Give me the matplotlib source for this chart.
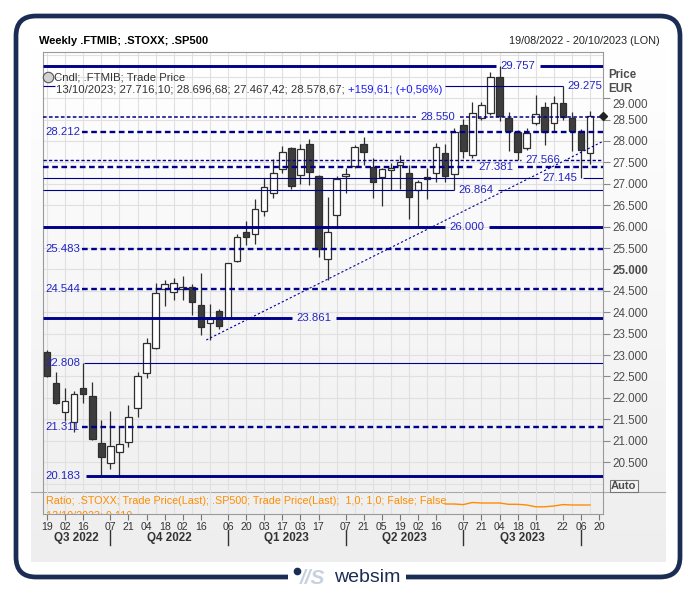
import numpy as np
import matplotlib.pyplot as plt
from matplotlib import font_manager
from matplotlib.colors import LinearSegmentedColormap
from matplotlib.patches import FancyBboxPatch, Rectangle
import matplotlib.transforms as mtransforms

# ---------------- data ----------------
title = "Weekly .FTMIB; .STOXX; .SP500"
date_range = "19/08/2022 - 20/10/2023 (LON)"
legend_1 = "Cndl; .FTMIB; Trade Price"
legend_2 = "13/10/2023; 27.716,10; 28.696,68; 27.467,42; 28.578,67; "
legend_chg = "+159,61; (+0,56%)"
ratio_text = "Ratio; .STOXX; Trade Price(Last); .SP500; Trade Price(Last);  1,0; 1,0; False; False"
ratio_last = "13/10/2023; 0,110"

# weekly FTSE MIB candles, 19/08/2022 .. 13/10/2023
opens = [23070, 22350, 21665, 21430, 22225, 22050, 20940, 20475, 20735, 20963,
         21757, 22588, 23170, 24550, 24480, 24536, 24583, 24169, 23742, 24030,
         23860, 25197, 25867, 25820, 26358, 26778, 27350, 27830, 27200, 27930,
         27190, 25244, 26271, 27190, 27415, 27929, 27385, 27152, 27330, 27440,
         27245, 26855, 27150, 27245, 27712, 27222, 28380, 27673, 28530, 28660,
         29487, 28530, 28220, 27830, 28413, 28787, 28413, 28880, 28530, 28240,
         27716.10]
highs = [23130, 22600, 22230, 22160, 22808, 22378, 21490, 21690, 21310, 21834,
         22612, 23410, 24676, 24753, 24807, 24847, 24660, 24910, 24193, 24076,
         25160, 25830, 26131, 26645, 27128, 27572, 27880, 27850, 27930, 28035,
         27200, 26699, 27182, 27370, 27910, 28100, 27593, 27380, 27480, 27675,
         27450, 27080, 27375, 27960, 27920, 28310, 28520, 28900, 28900, 29600,
         29757, 28680, 28260, 28300, 29080, 28900, 29050, 29275, 28670, 28275,
         28696.68]
lows = [22490, 21860, 21450, 21210, 21875, 21020, 20183, 20350, 20183, 20846,
        21561, 22464, 23150, 24153, 24286, 24286, 23936, 23469, 23352, 23602,
        23840, 25180, 25571, 25594, 26248, 26675, 27250, 26870, 27000, 26970,
        25295, 24753, 26000, 26780, 27370, 27430, 26662, 26470, 26860, 26890,
        26175, 26000, 26650, 27050, 27050, 26864, 27610, 27595, 28500, 28607,
        28455, 27760, 27566, 27800, 28370, 27900, 28220, 28490, 27770, 27145,
        27467.42]
closes = [22510, 21870, 21930, 22085, 22100, 21035, 20630, 20885, 20915, 21547,
          22518, 23275, 24443, 24653, 24690, 24597, 24247, 23663, 23842, 23686,
          25157, 25765, 25750, 26411, 26932, 27245, 27736, 26960, 27810, 27270,
          25480, 25867, 27109, 27225, 27852, 27736, 27050, 27346, 27360, 27500,
          26700, 27050, 27105, 27852, 27190, 28202, 27760, 28646, 28840, 29487,
          28583, 28243, 27735, 28190, 28623, 28217, 28880, 28553, 28233, 27790,
          28578.67]

# week index of each date label on the x axis (0 = 19/08/2022)
tick_pos = [0, 2, 4, 7, 9, 11, 13, 15, 17, 20, 22, 24, 26, 28, 30,
            33, 35, 37, 39, 41, 43, 46, 48, 50, 52, 54, 57, 59, 61]
tick_labels = ["19", "02", "16", "07", "21", "04", "18", "02", "16", "06",
               "20", "03", "17", "03", "17", "07", "21", "05", "19", "02",
               "16", "07", "21", "04", "18", "01", "22", "06", "20"]
quarter_starts = [-0.5, 7, 20, 33, 46, 59]
quarter_labels = ["Q3 2022", "Q4 2022", "Q1 2023", "Q2 2023", "Q3 2023"]

price_ticks = list(range(20500, 29001, 500))

levels = [29757, 29275, 28550, 28212, 27566, 27381, 27145, 26864,
          26000, 25483, 24544, 23861, 22808, 21311, 20183]

trend_x = [17.6, 61.4]
trend_y = [23352, 27988]

ratio_x = list(range(44, 61))
ratio_y = [0.1110, 0.1110, 0.1104, 0.1125, 0.1120, 0.1120, 0.1120, 0.1107,
           0.1107, 0.1100, 0.1082, 0.1082, 0.1090, 0.1104, 0.1100, 0.1100, 0.1100]

# ---------------- styling / layout ----------------
W, H = 696, 593
NAVY = "#00008b"
LBL = "#2424c4"
GREY_TXT = "#4d4d4d"

names = {f.name for f in font_manager.fontManager.ttflist}
SANS = "Liberation Sans" if "Liberation Sans" in names else "DejaVu Sans"
NARROW = "Liberation Sans Narrow" if "Liberation Sans Narrow" in names else SANS
plt.rcParams["font.family"] = SANS


def fx(px):
    return px / W


def fy(py):
    return 1 - py / H


def idx(px):
    # pixel column -> week index
    return (px - 47) / 9.05


# (line width pt, dashed, label left px or None for left label, segments px)
level_style = [
    (2.1, False, 500, None),
    (0.8, False, 567, [(43, 55), (445, 563)]),
    (1.1, True, 420, None),
    (1.7, True, None, None),
    (1.0, True, 525, None),
    (1.7, True, 478, None),
    (0.8, False, 542, [(43, 539), (583, 603)]),
    (0.8, False, 458, None),
    (2.1, False, 449, None),
    (1.7, True, None, None),
    (1.7, True, None, None),
    (2.1, False, 296, None),
    (0.8, False, None, [(84, 603)]),
    (1.7, True, None, None),
    (2.1, False, None, [(86, 603)]),
]

fig = plt.figure(figsize=(W / 100, H / 100), dpi=100)
fig.patch.set_facecolor("white")

# background layer in pixel coordinates
bg = fig.add_axes([0, 0, 1, 1], zorder=-10)
bg.set_xlim(0, W)
bg.set_ylim(H, 0)
bg.axis("off")
shade = LinearSegmentedColormap.from_list("shade", ["#ffffff", "#eeeeee"])
bg.imshow(np.linspace(0, 1, 200)[:, None], extent=[31, 666, 562, 48],
          cmap=shade, aspect="auto")
bg.plot([31, 665], [492, 492], color="#a8a8a8", lw=0.8)
bg.add_patch(FancyBboxPatch((16, 16), 664, 561,
                            boxstyle="round,pad=0,rounding_size=20",
                            lw=3.4, ec="#1b2c55", fc="none"))
bg.add_patch(Rectangle((288, 568), 118, 16, fc="white", ec="none", zorder=3))
bg.plot(297, 570.5, "o", ms=4.5, color="#1b2c55", zorder=4)
bg.text(300, 579, "//S", fontsize=15, fontweight="bold", style="italic",
        color="#c8d2de", va="center", ha="left", zorder=4)
bg.text(334, 578, "websim", fontsize=14, color="#1b2c55", va="center",
        ha="left", zorder=4)

fig.text(fx(39), fy(41), title, fontsize=8, fontweight="bold", va="center")
fig.text(fx(660), fy(41), date_range, fontsize=7.8, ha="right", va="center",
         color="#222222")

# ---------------- main candle panel ----------------
ax = fig.add_axes([fx(43), fy(492), (603 - 43) / W, (492 - 52) / H])
ax.set_facecolor("none")
ax.set_xlim(idx(43), idx(603))
ax.set_ylim(19802, 30078)
ax.spines["bottom"].set_visible(False)
for s in ["left", "top", "right"]:
    ax.spines[s].set_color("#9a9a9a")
    ax.spines[s].set_linewidth(0.8)

for g in range(0, 61, 2):
    ax.axvline(g, color="#e0e0e0", lw=0.8, zorder=0)
for p in range(20000, 30001, 500):
    ax.axhline(p, color="#e0e0e0", lw=0.8, zorder=0)

ax.set_xticks([])
ax.yaxis.tick_right()
ax.set_yticks(price_ticks)
ax.set_yticklabels([f"{v:,}".replace(",", ".") for v in price_ticks])
ax.tick_params(axis="y", length=5, color="#8a8a8a", labelsize=8.4,
               labelcolor=GREY_TXT, pad=2)
for t in ax.get_yticklabels():
    if t.get_text() == "25.000":
        t.set_fontweight("bold")
    if t.get_text() == "29.000":
        # the top label sits a little lower, clear of the "EUR" caption
        t.set_transform(t.get_transform() +
                        mtransforms.ScaledTranslation(0, -0.05, fig.dpi_scale_trans))

o, h, l, c = (np.array(v, dtype=float) for v in (opens, highs, lows, closes))
xs = np.arange(len(o))
up = c >= o
ax.vlines(xs, l, h, color="#2e2e2e", lw=0.9, zorder=3)
ax.bar(xs, np.maximum(np.abs(c - o), 12), 0.72, np.minimum(o, c),
       color=np.where(up, "white", "#3d3d3d"), edgecolor="#2e2e2e",
       lw=0.9, zorder=4)

for v, (lw, dashed, lab, segs) in zip(levels, level_style):
    if segs is None:
        segs = [(82, 603)] if lab is None else [(43, lab - 4), (lab + 40, 603)]
    ls = (0, (2.4, 1.5)) if dashed else "-"
    for a, b in segs:
        ax.plot([idx(a), idx(b)], [v, v], color=NAVY, lw=lw, ls=ls,
                solid_capstyle="butt", zorder=5)
    ax.text(idx(45 if lab is None else lab), v, f"{v:,}".replace(",", "."),
            color=LBL, fontsize=8.2, va="center", ha="left", zorder=6)

ax.plot(trend_x, trend_y, color="#0000a0", lw=0.8, ls=(0, (2, 2)), zorder=5)
ax.plot([idx(603)], [closes[-1]], marker="D", ms=4.5, color="#222222",
        clip_on=False, zorder=7)

ax.plot([fx(48)], [fy(77)], marker="o", ms=7.5, mfc="#d2d2d2", mec="#555555",
        mew=0.8, transform=fig.transFigure, clip_on=False, zorder=7)
ax.text(fx(54), fy(77), legend_1, transform=fig.transFigure, fontsize=8.2,
        color="#333333", va="center", ha="left", zorder=7)
t2 = ax.text(fx(56), fy(90), legend_2, transform=fig.transFigure, fontsize=8.2,
             color="#333333", va="center", ha="left", zorder=7)
ax.annotate(legend_chg, xy=(1, 0.5), xycoords=t2, fontsize=8.2, color="#1a1aff",
            va="center", ha="left", zorder=7)

fig.text(fx(608), fy(75), "Price", fontsize=8.3, fontweight="bold",
         color=GREY_TXT, va="center")
fig.text(fx(608), fy(89), "EUR", fontsize=8.3, fontweight="bold",
         color=GREY_TXT, va="center")
fig.text(fx(611), fy(486), "Auto", fontsize=8, fontweight="bold",
         color=GREY_TXT, va="center",
         bbox=dict(boxstyle="square,pad=0.12", fc="#f4f4f4", ec="#777777", lw=0.8))

# ---------------- ratio panel ----------------
axr = fig.add_axes([fx(43), fy(514), (603 - 43) / W, 22 / H])
axr.set_facecolor("none")
axr.set_xlim(idx(43), idx(603))
axr.set_ylim(0.101, 0.123)
axr.spines["top"].set_visible(False)
for s in ["left", "bottom", "right"]:
    axr.spines[s].set_color("#9a9a9a")
    axr.spines[s].set_linewidth(0.8)
for g in range(0, 61, 2):
    axr.axvline(g, color="#e0e0e0", lw=0.8, zorder=0)
axr.set_yticks([])
axr.set_xticks(tick_pos)
axr.set_xticklabels(tick_labels, fontfamily=NARROW, fontsize=7.6, color="#333333")
axr.tick_params(axis="x", length=4, color="#777777", pad=2)
axr.plot(ratio_x, ratio_y, color="#ff8c00", lw=1, zorder=3)
axr.text(fx(46), fy(501), ratio_text, transform=fig.transFigure,
         fontfamily=NARROW, fontsize=7.75, color="#ff8c00", va="center")
axr.text(fx(46), fy(516), ratio_last, transform=fig.transFigure,
         fontfamily=NARROW, fontsize=7.75, color="#ff8c00", va="center",
         clip_on=True)

# quarter labels and separators under the date axis
trans = mtransforms.blended_transform_factory(axr.transData, fig.transFigure)
for a, b, q in zip(quarter_starts[:-1], quarter_starts[1:], quarter_labels):
    axr.text((a + b) / 2, fy(538), q, transform=trans, fontsize=8.4,
             fontweight="bold", color="#333333", ha="center", va="center")
for s in quarter_starts[1:]:
    axr.plot([s, s], [fy(530), fy(545)], transform=trans, color="#333333",
             lw=1, clip_on=False)

fig.savefig("out.png", dpi=100)
